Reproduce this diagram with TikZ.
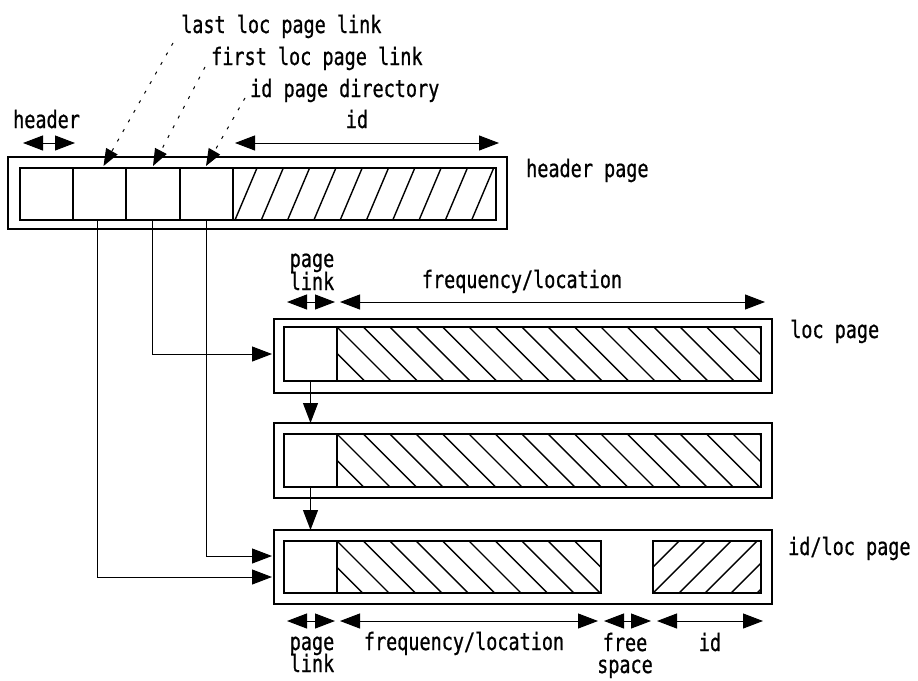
\documentclass[tikz,border=0pt]{standalone}
\usepackage{fontspec}
\usetikzlibrary{arrows.meta,calc}
\newfontfamily\lblfont[FakeStretch=0.77,FakeBold=0.8]{DejaVu Sans Mono}
\begin{document}
\begin{tikzpicture}[x=1pt,y=-1pt,
  box/.style={draw, line width=1.4pt, inner sep=0pt, outer sep=0pt},
  conn/.style={line width=1pt, -{Triangle[length=20pt,width=15pt]}},
  dim/.style={line width=1pt, {Triangle[length=20pt,width=15pt]}-{Triangle[length=20pt,width=15pt]}},
  ptr/.style={line width=1pt, dash pattern=on 3pt off 8pt, -{Triangle[length=17pt,width=13pt]}},
  hatchln/.style={line width=1.4pt},
  lbl/.style={font=\lblfont\fontsize{24}{24}\selectfont, inner sep=0pt}]
\useasboundingbox (0,0) rectangle (918,680);

% ---------- hatching ----------
\begin{scope}
  \clip (233,168) rectangle (496,220);
  \foreach \k in {-1,...,10} \draw[hatchln] (235+26.3*\k,220) -- ++(22,-52);
\end{scope}
\begin{scope}
  \clip (337,327) rectangle (761,381);
  \foreach \k in {-3,...,16} \draw[hatchln] (337+26.4*\k,327) -- ++(60,60);
\end{scope}
\begin{scope}
  \clip (337,434) rectangle (761,487);
  \foreach \k in {-3,...,16} \draw[hatchln] (337+26.4*\k,434) -- ++(60,60);
\end{scope}
\begin{scope}
  \clip (337,541) rectangle (601,593);
  \foreach \k in {-3,...,10} \draw[hatchln] (337+26.4*\k,541) -- ++(60,60);
\end{scope}
\begin{scope}
  \clip (653,541) rectangle (761,593);
  \foreach \k in {-2,...,4} \draw[hatchln] (653+26*\k,593) -- ++(60,-60);
\end{scope}

% ---------- header page ----------
\node[box, minimum width=499pt, minimum height=72pt] (hp) at (257.5,193) {};
\node[box, minimum width=53pt, minimum height=52pt] (c1) at (46.5,194) {};
\node[box, minimum width=53pt, minimum height=52pt] (c2) at (99.5,194) {};
\node[box, minimum width=54pt, minimum height=52pt] (c3) at (153,194) {};
\node[box, minimum width=53pt, minimum height=52pt] (c4) at (206.5,194) {};
\node[box, minimum width=263pt, minimum height=52pt] (hid) at (364.5,194) {};

% ---------- loc page ----------
\node[box, minimum width=498pt, minimum height=74pt] (o1) at (523,356) {};
\node[box, minimum width=53pt, minimum height=54pt] (l1) at (310.5,354) {};
\node[box, minimum width=424pt, minimum height=54pt] (f1) at (549,354) {};

% ---------- second loc page ----------
\node[box, minimum width=498pt, minimum height=75pt] (o2) at (523,460.5) {};
\node[box, minimum width=53pt, minimum height=53pt] (l2) at (310.5,460.5) {};
\node[box, minimum width=424pt, minimum height=53pt] (f2) at (549,460.5) {};

% ---------- id/loc page ----------
\node[box, minimum width=498pt, minimum height=74pt] (o3) at (523,567) {};
\node[box, minimum width=53pt, minimum height=52pt] (l3) at (310.5,567) {};
\node[box, minimum width=264pt, minimum height=52pt] (f3) at (469,567) {};
\node[box, minimum width=108pt, minimum height=52pt] (i3) at (707,567) {};

% ---------- connectors ----------
\draw[conn, shorten >=2pt] ($(c3.south)+(-1,0)$) |- ($(o1.west)+(0,-2)$);
\draw[conn, shorten >=2pt] ($(c4.south)+(-0.5,0)$) |- ($(o3.west)+(0,-11)$);
\draw[conn, shorten >=2pt] ($(c2.south)+(-2.5,0)$) |- ($(o3.west)+(0,10)$);
\draw[conn] (l1.south) -- (o2.north -| l1.south);
\draw[conn] (l2.south) -- (o3.north -| l2.south);

% ---------- pointers ----------
\coordinate (s1) at (173,43);
\coordinate (s2) at (205,67);
\coordinate (s3) at (245,98);
\draw[ptr] (s1) -- ($(c2.north)+(4,-2)$);
\draw[ptr] (s2) -- ($(c3.north)+(0,-2)$);
\draw[ptr] (s3) -- ($(c4.north)+(-0.5,-2)$);

% ---------- dimension arrows ----------
\draw[dim] (23,143) -- (75,143);
\draw[dim] (235,143) -- (499,143);
\draw[dim] (287,302) -- (335,302);
\draw[dim] (340,302) -- (765,302);
\draw[dim] (287,621) -- (335,621);
\draw[dim] (340,621) -- (598,621);
\draw[dim] (604,621) -- (651,621);
\draw[dim] (657,621) -- (763,621);

% ---------- labels ----------
\node[lbl, anchor=base west] (tl1) at (181,33) {last loc page link};
\node[lbl, anchor=base west] (tl2) at (211,65) {first loc page link};
\node[lbl, anchor=base west] (tl3) at (250,97) {id page directory};
\node[lbl, anchor=base west] (thdr) at (13,128) {header};
\node[lbl, anchor=base] (tid) at (357,128) {id};
\node[lbl, anchor=base west] (thp) at (526,177) {header page};
\node[lbl, anchor=base] (tpg1) at (312,267) {page};
\node[lbl, anchor=base] (tlk1) at (312,290) {link};
\node[lbl, anchor=base] (tfl1) at (522,288) {frequency/location};
\node[lbl, anchor=base west] (tlp) at (790,338) {loc page};
\node[lbl, anchor=base west] (tilp) at (788,555) {id/loc page};
\node[lbl, anchor=base] (tpg2) at (312,650) {page};
\node[lbl, anchor=base] (tlk2) at (312,672) {link};
\node[lbl, anchor=base] (tfl2) at (464,650) {frequency/location};
\node[lbl, anchor=base] (tfr) at (625,651) {free};
\node[lbl, anchor=base] (tsp) at (625,673) {space};
\node[lbl, anchor=base] (tid2) at (710,651) {id};
\end{tikzpicture}
\end{document}
